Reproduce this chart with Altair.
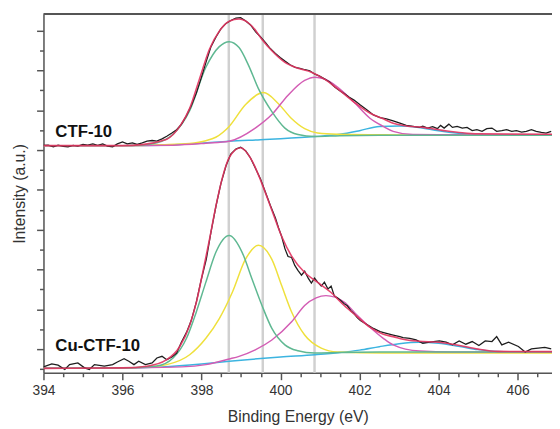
import altair as alt
import pandas as pd

# ---------------- data: binding energy (eV) / intensity (a.u.) ----------------
# CTF-10 (upper spectrum)
TOP_DATA_E = [394.00, 394.12, 394.25, 394.37, 394.50, 394.62, 394.75, 394.87, 395.00, 395.12,
              395.25, 395.37, 395.50, 395.62, 395.75, 395.87, 396.00, 396.12, 396.25, 396.37,
              396.50, 396.62, 396.75, 396.87, 397.00, 397.12, 397.25, 397.37, 397.49, 397.62,
              397.74, 397.87, 397.99, 398.12, 398.24, 398.37, 398.49, 398.62, 398.74, 398.87,
              398.99, 399.12, 399.24, 399.37, 399.49, 399.62, 399.74, 399.87, 399.99, 400.12,
              400.24, 400.37, 400.49, 400.62, 400.74, 400.87, 400.99, 401.12, 401.24, 401.37,
              401.49, 401.62, 401.74, 401.86, 402.02, 402.19, 402.35, 402.52, 402.68, 402.85,
              403.02, 403.18, 403.35, 403.52, 403.60, 403.72, 403.85, 403.97, 404.05, 404.14,
              404.26, 404.35, 404.47, 404.60, 404.72, 404.85, 404.97, 405.10, 405.22, 405.35,
              405.47, 405.60, 405.72, 405.85, 405.97, 406.10, 406.22, 406.35, 406.47, 406.60,
              406.72, 406.85]
TOP_DATA_I = [230.7, 231.0, 229.3, 231.0, 229.7, 229.3, 230.7, 230.0, 231.7, 231.0,
              232.3, 230.7, 232.3, 230.0, 229.3, 232.3, 234.3, 232.3, 233.3, 231.7,
              233.3, 235.0, 235.7, 235.0, 237.3, 240.0, 243.3, 246.7, 252.0, 261.0,
              271.0, 284.0, 299.0, 316.0, 331.0, 341.0, 349.0, 354.5, 357.5, 360.0,
              360.3, 357.0, 353.0, 346.0, 341.0, 335.0, 329.0, 324.0, 320.0, 316.0,
              312.5, 310.0, 309.0, 307.5, 306.5, 303.0, 301.0, 298.0, 295.0, 290.0,
              286.5, 283.0, 279.5, 276.7, 271.7, 266.7, 261.7, 259.0, 257.7, 255.7,
              253.3, 251.0, 250.0, 249.0, 250.3, 248.3, 249.7, 247.7, 251.0, 248.3,
              252.3, 249.0, 250.0, 248.3, 249.0, 245.7, 246.7, 245.0, 247.7, 248.3,
              245.0, 245.7, 246.7, 245.0, 245.7, 244.3, 245.0, 246.7, 245.0, 244.0,
              243.3, 245.0]
TOP_FIT_E = [394.0, 396.0, 396.5, 397.0, 397.12, 397.45, 397.70, 397.95, 398.20, 398.45,
             398.70, 398.95, 399.28, 399.53, 399.78, 400.11, 400.44, 400.78, 401.10, 401.44,
             401.85, 402.27, 402.60, 402.85, 403.10, 403.60, 404.10, 404.60, 405.00, 406.87]
TOP_FIT_I = [230.5, 230.5, 231.5, 235.5, 237.0, 250.0, 268.3, 298.3, 328.3, 346.7,
             356.7, 359.0, 351.7, 338.3, 326.7, 315.0, 309.0, 305.0, 298.3, 288.3,
             275.0, 263.3, 257.7, 253.3, 251.0, 249.0, 246.0, 243.5, 242.5, 242.0]
TOP_GREEN_E = [394.0, 396.0, 396.45, 396.87, 397.28, 397.70, 398.11, 398.45, 398.70, 398.95,
               399.19, 399.44, 399.78, 400.11, 400.44, 400.86, 401.5, 402.5, 406.87]
TOP_GREEN_I = [230.5, 230.5, 231.0, 233.3, 242.0, 266.0, 310.0, 331.0, 336.0, 330.0,
               312.0, 288.3, 265.0, 248.3, 241.7, 239.7, 240.5, 241.0, 241.0]
TOP_YELLOW_E = [394.0, 396.0, 397.0, 397.70, 398.11, 398.36, 398.70, 399.11, 399.57, 399.94,
                400.27, 400.61, 400.94, 401.44, 402.6, 404.0, 406.87]
TOP_YELLOW_I = [230.5, 230.5, 231.5, 232.8, 235.5, 239.0, 250.0, 272.0, 284.3, 273.3,
                258.3, 247.7, 243.3, 242.0, 241.5, 241.0, 241.0]
TOP_MAGENTA_E = [394.0, 396.0, 397.28, 398.11, 398.70, 399.36, 399.78, 400.19, 400.61, 400.87,
                 401.10, 401.44, 401.85, 402.27, 402.60, 402.85, 403.35, 404.0, 406.87]
TOP_MAGENTA_I = [230.5, 230.5, 231.0, 233.0, 235.0, 248.3, 262.0, 281.7, 296.7, 300.0,
                 298.3, 290.0, 275.0, 258.0, 250.0, 245.0, 241.7, 241.5, 241.5]
TOP_CYAN_E = [394.0, 396.0, 397.0, 398.0, 398.69, 399.5, 400.0, 400.87, 401.5, 402.0,
              402.5, 403.0, 403.5, 404.0, 404.5, 405.0, 406.0, 406.87]
TOP_CYAN_I = [230.5, 230.5, 231.0, 233.0, 235.0, 236.5, 237.5, 239.7, 242.0, 245.7,
              250.0, 250.5, 249.0, 245.5, 243.0, 241.7, 241.5, 241.5]

# Cu-CTF-10 (lower spectrum)
BOT_DATA_E = [394.00, 394.21, 394.37, 394.54, 394.66, 394.87, 395.04, 395.16, 395.29, 395.54,
              395.75, 395.87, 396.04, 396.16, 396.29, 396.41, 396.58, 396.75, 396.87, 397.00,
              397.12, 397.25, 397.37, 397.49, 397.62, 397.74, 397.87, 397.99, 398.12, 398.24,
              398.37, 398.49, 398.62, 398.74, 398.87, 398.99, 399.12, 399.24, 399.37, 399.49,
              399.62, 399.74, 399.87, 399.95, 400.03, 400.11, 400.19, 400.28, 400.36, 400.44,
              400.53, 400.61, 400.70, 400.78, 400.86, 400.94, 401.03, 401.11, 401.20, 401.28,
              401.36, 401.44, 401.53, 401.61, 401.69, 401.78, 401.86, 401.94, 402.02, 402.10,
              402.27, 402.35, 402.52, 402.68, 402.85, 403.02, 403.10, 403.27, 403.43, 403.60,
              403.77, 404.02, 404.19, 404.35, 404.52, 404.69, 404.85, 405.02, 405.18, 405.35,
              405.47, 405.60, 405.77, 406.02, 406.19, 406.35, 406.52, 406.69, 406.85]
BOT_DATA_I = [6.0, 9.0, 7.7, 3.3, 8.3, 10.0, 5.0, 3.3, 8.3, 6.7,
              8.3, 11.0, 14.3, 11.7, 8.3, 11.7, 8.3, 10.0, 15.0, 16.7,
              13.3, 16.0, 20.0, 31.0, 41.0, 53.0, 72.0, 94.0, 115.0, 143.0,
              170.0, 192.0, 210.0, 222.0, 227.0, 229.0, 225.0, 218.0, 207.0, 197.0,
              183.0, 170.0, 157.0, 147.0, 138.0, 126.0, 118.0, 117.0, 109.0, 104.0,
              99.0, 103.0, 96.0, 91.0, 96.0, 92.0, 88.0, 92.0, 85.0, 88.0,
              78.0, 76.0, 73.0, 70.0, 68.0, 63.0, 60.0, 56.0, 53.0, 51.0,
              47.0, 45.0, 41.7, 40.0, 38.3, 36.7, 35.7, 35.0, 33.3, 30.0,
              31.0, 32.3, 31.0, 28.3, 32.3, 29.0, 31.7, 27.7, 32.3, 31.7,
              36.7, 28.3, 31.0, 26.7, 21.0, 24.3, 25.0, 25.7, 24.3]
BOT_FIT_E = [394.0, 396.0, 396.62, 397.12, 397.45, 397.70, 397.87, 398.03, 398.20, 398.36,
             398.53, 398.70, 398.99, 399.28, 399.53, 399.78, 400.03, 400.28, 400.61, 400.94,
             401.27, 401.61, 401.94, 402.27, 402.60, 402.85, 403.10, 403.50, 404.00, 404.50,
             405.00, 405.50, 406.87]
BOT_FIT_I = [4.5, 5.0, 6.7, 13.3, 26.7, 48.3, 71.7, 101.7, 135.0, 168.3,
             198.3, 218.3, 228.3, 215.0, 191.7, 165.0, 138.3, 118.3, 101.7, 91.7,
             81.7, 68.3, 57.0, 46.0, 39.0, 36.7, 34.0, 32.0, 31.0, 28.0,
             24.0, 21.7, 21.5]
BOT_GREEN_E = [394.0, 396.0, 396.87, 397.28, 397.62, 397.87, 398.11, 398.36, 398.70, 399.03,
               399.28, 399.53, 399.78, 400.11, 400.44, 400.86, 401.5, 402.5, 406.87]
BOT_GREEN_I = [4.5, 5.0, 7.0, 15.0, 35.0, 62.0, 92.0, 122.0, 139.3, 122.0,
               95.0, 68.3, 45.0, 28.3, 22.3, 20.0, 20.5, 21.0, 21.0]
BOT_YELLOW_E = [394.0, 396.0, 396.5, 397.12, 397.70, 398.11, 398.45, 398.78, 399.11, 399.44,
                399.78, 400.03, 400.28, 400.61, 401.03, 401.44, 402.6, 406.87]
BOT_YELLOW_I = [4.5, 5.0, 5.5, 8.3, 18.3, 35.0, 55.0, 81.7, 115.0, 129.3,
                115.0, 88.3, 61.7, 38.3, 25.0, 21.0, 20.0, 20.0]
BOT_MAGENTA_E = [394.0, 396.0, 397.5, 398.11, 398.70, 398.95, 399.36, 399.78, 400.28, 400.61,
                 400.90, 401.15, 401.61, 401.90, 402.27, 402.60, 402.85, 403.52, 404.35, 406.87]
BOT_MAGENTA_I = [4.5, 5.0, 6.0, 8.3, 14.0, 16.7, 23.3, 33.3, 51.7, 68.3,
                 76.0, 78.3, 71.7, 60.0, 46.0, 35.0, 28.3, 22.0, 21.0, 21.0]
BOT_CYAN_E = [394.0, 396.0, 397.0, 398.0, 398.7, 399.5, 400.0, 400.87, 401.5, 402.0,
              402.5, 403.0, 403.5, 404.0, 404.5, 405.0, 405.5, 406.0, 406.87]
BOT_CYAN_I = [4.5, 4.7, 6.0, 9.0, 11.7, 14.5, 16.0, 18.3, 20.5, 23.0,
              26.5, 29.5, 31.0, 30.0, 27.0, 23.5, 21.5, 21.0, 21.0]

PEAK_LINES = [398.69, 399.55, 400.86]
LABEL_TEXT = ["CTF-10", "Cu-CTF-10"]
LABEL_E = [394.3, 394.3]
LABEL_I = [244.0, 27.5]

X_TICKS = [394 + 0.5 * i for i in range(26)]
Y_TICKS = [3.8 + 20.2 * i for i in range(18)]

# ---------------- chart ----------------
W, H = 516, 364
FONT = "Liberation Sans"
AX = "#555555"


def frame(E, I, panel, series):
    return pd.DataFrame({"E": E, "I": I, "panel": panel, "series": series})


comps = pd.concat([
    frame(TOP_CYAN_E, TOP_CYAN_I, "top", "cyan"),
    frame(TOP_YELLOW_E, TOP_YELLOW_I, "top", "yellow"),
    frame(TOP_MAGENTA_E, TOP_MAGENTA_I, "top", "magenta"),
    frame(TOP_GREEN_E, TOP_GREEN_I, "top", "green"),
    frame(BOT_CYAN_E, BOT_CYAN_I, "bot", "cyan"),
    frame(BOT_YELLOW_E, BOT_YELLOW_I, "bot", "yellow"),
    frame(BOT_MAGENTA_E, BOT_MAGENTA_I, "bot", "magenta"),
    frame(BOT_GREEN_E, BOT_GREEN_I, "bot", "green"),
], ignore_index=True)
raw = pd.concat([frame(TOP_DATA_E, TOP_DATA_I, "top", "data"),
                 frame(BOT_DATA_E, BOT_DATA_I, "bot", "data")], ignore_index=True)
fit = pd.concat([frame(TOP_FIT_E, TOP_FIT_I, "top", "fit"),
                 frame(BOT_FIT_E, BOT_FIT_I, "bot", "fit")], ignore_index=True)
vlines = pd.DataFrame({"E": PEAK_LINES})
labels = pd.DataFrame({"E": LABEL_E, "I": LABEL_I, "text": LABEL_TEXT})

xscale = alt.Scale(domain=[394, 406.87], nice=False, zero=False)
yscale = alt.Scale(domain=[0, 364], nice=False, zero=False)

xaxis = alt.Axis(
    values=X_TICKS,
    labelExpr="datum.value % 2 === 0 ? format(datum.value, 'd') : ''",
    tickSize={"condition": {"test": "datum.value % 2 === 0", "value": 7}, "value": 4},
    tickColor=AX, tickWidth=1.5, domainColor=AX, domainWidth=1.5,
    labelFont=FONT, labelFontSize=14, labelColor="#333333", labelPadding=4,
    labelFlush=False, labelOverlap=False, grid=False,
    title="Binding Energy (eV)", titleFont=FONT, titleFontSize=16,
    titleFontWeight="normal", titleColor="#333333", titlePadding=11,
)
yaxis = alt.Axis(
    values=Y_TICKS, labels=False,
    tickSize={"condition": {"test": "abs(datum.value - 24 - 40.4 * round((datum.value - 24) / 40.4)) < 1",
                            "value": 7}, "value": 4},
    tickColor=AX, tickWidth=1.5, domainColor=AX, domainWidth=1.5, grid=False,
    title="Intensity (a.u.)", titleFont=FONT, titleFontSize=16,
    titleFontWeight="normal", titleColor="#333333", titlePadding=8,
)
X = alt.X("E:Q", scale=xscale, axis=xaxis)
Y = alt.Y("I:Q", scale=yscale, axis=yaxis)

vl = alt.Chart(vlines).mark_rule(color="#d0d0d0", strokeWidth=2.5).encode(
    x=X, y=alt.value(0), y2=alt.value(H))

comp_layer = alt.Chart(comps).mark_line(strokeWidth=1.5, interpolate="monotone", clip=True).encode(
    x=X, y=Y,
    color=alt.Color("series:N", legend=None,
                    scale=alt.Scale(domain=["cyan", "yellow", "magenta", "green"],
                                    range=["#3cb4e0", "#efe03c", "#d35db4", "#5fb892"])),
    detail="panel:N",
)
raw_layer = alt.Chart(raw).mark_line(strokeWidth=1.3, color="#1e1e1e", clip=True).encode(
    x=X, y=Y, detail="panel:N")
fit_layer = alt.Chart(fit).mark_line(strokeWidth=1.6, color="#e2335f", interpolate="monotone",
                                     clip=True, opacity=0.9).encode(
    x=X, y=Y, detail="panel:N")
text_layer = alt.Chart(labels).mark_text(align="left", baseline="middle", font=FONT,
                                         fontSize=17, fontWeight="bold", color="#111111").encode(
    x=X, y=Y, text="text:N")
top_border = alt.Chart(pd.DataFrame({"a": [0]})).mark_rule(color=AX, strokeWidth=2).encode(
    x=alt.value(0), x2=alt.value(W), y=alt.value(0))

chart = alt.layer(vl, comp_layer, raw_layer, fit_layer, text_layer, top_border).properties(
    width=W, height=H,
    autosize=alt.AutoSizeParams(type="none"),
    padding={"left": 36, "top": 3, "right": 0, "bottom": 62},
).configure_view(stroke=None).configure(background="white")

chart.save("out.html", embed_options={"renderer": "svg", "actions": False})
